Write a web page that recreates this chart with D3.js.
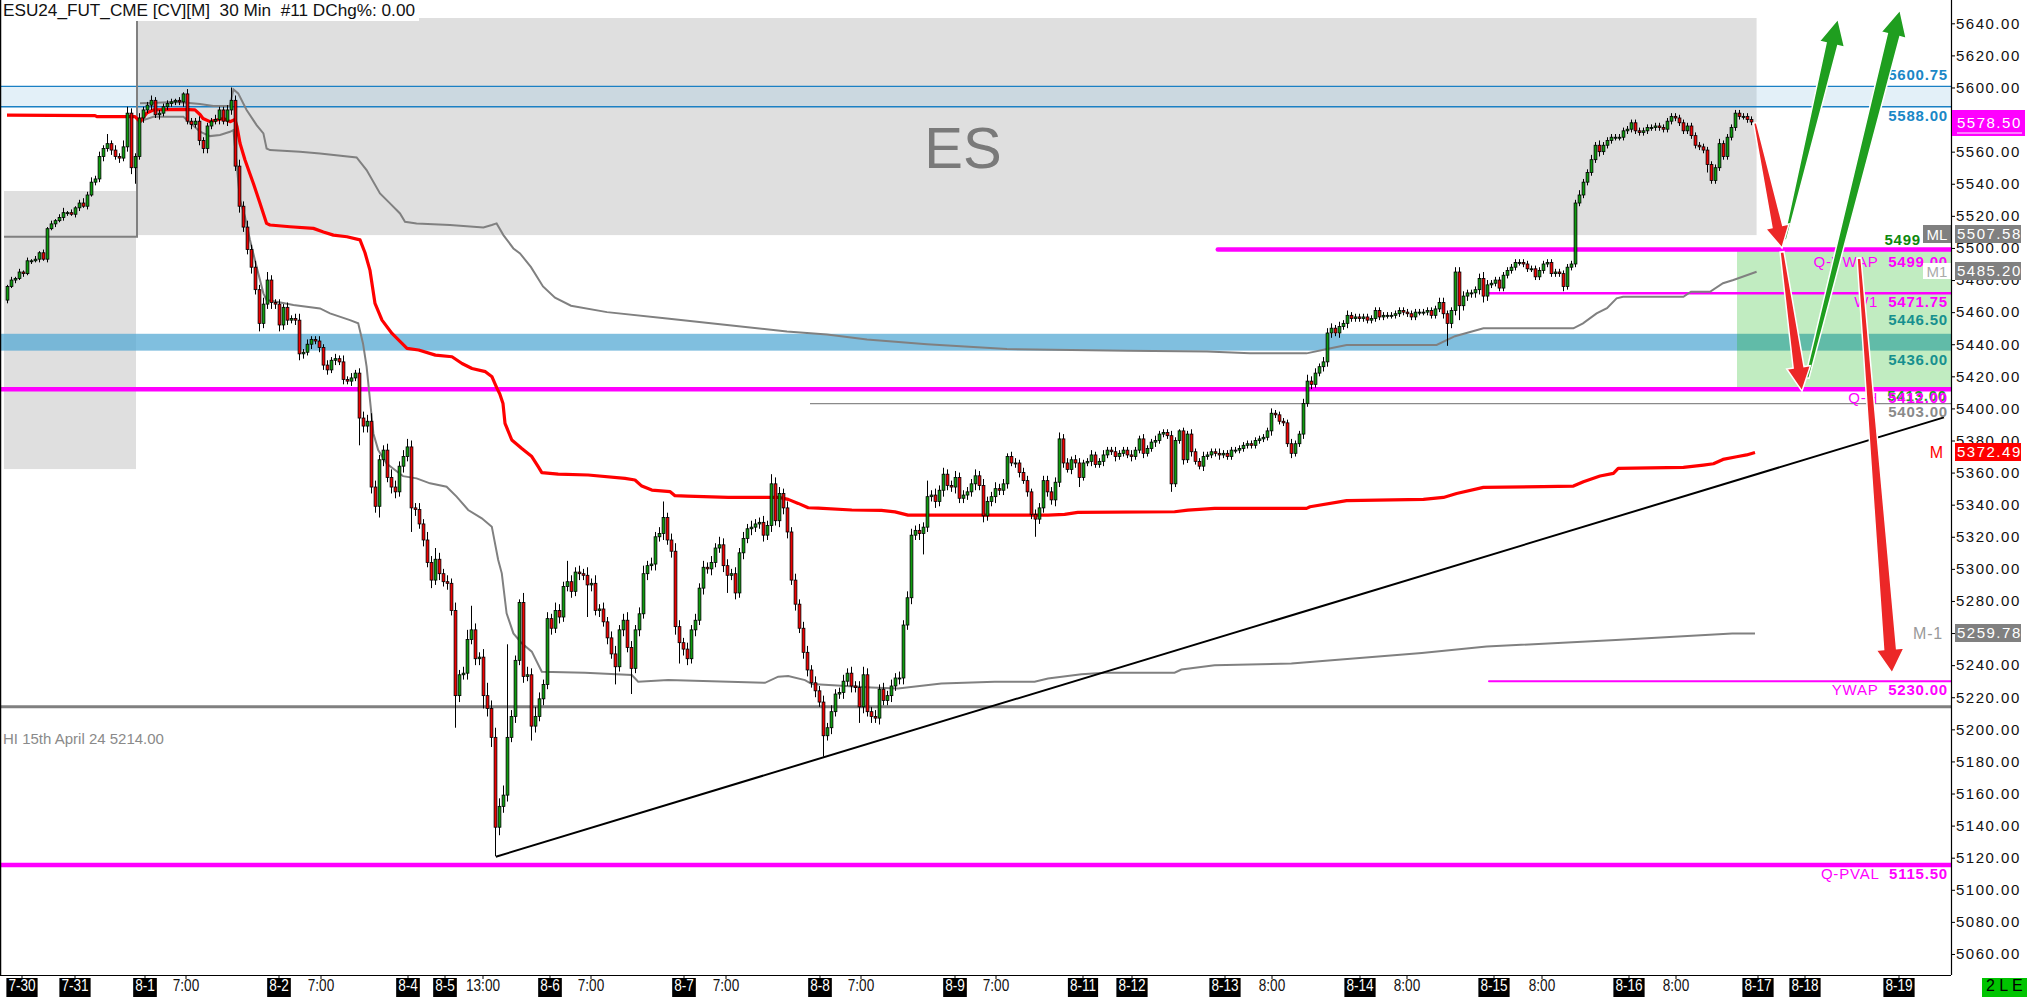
<!DOCTYPE html>
<html><head><meta charset="utf-8">
<script src="https://cdnjs.cloudflare.com/ajax/libs/d3/7.8.5/d3.min.js"></script>
<style>
html,body{margin:0;padding:0;background:#fff;overflow:hidden}
svg{display:block}
text{font-family:"Liberation Sans",Arial,sans-serif}
</style></head><body>
<svg id="chart" width="2027" height="997"></svg>
<script>
// ---------------- DATA ----------------
const title = "ESU24_FUT_CME [CV][M]  30 Min  #11 DChg%: 0.00";
const firstOpen = 5467.5;
const closes = [
5476,5480,5481,5485,5484,5492,5492,5493,5497,5493,
5512,5515,5517,5519,5522,5522,5521,5525,5528,5526,
5533,5541,5543,5557,5562,5565,5561,5557,5556,5563,
5584,5550,5557,5581,5586,5589,5592,5583,5584,5588,
5590,5591,5592,5591,5596,5579,5577,5579,5567,5562,
5576,5579,5580,5586,5579,5586,5592,5551,5526,5513,
5499,5488,5474,5453,5465,5480,5466,5465,5452,5463,
5455,5456,5455,5434,5435,5440,5443,5442,5438,5427,
5424,5430,5431,5429,5418,5417,5419,5422,5394,5389,
5392,5351,5339,5368,5374,5357,5351,5348,5364,5370,
5376,5338,5337,5328,5318,5304,5293,5306,5297,5292,
5291,5274,5221,5234,5235,5256,5262,5244,5245,5221,
5213,5195,5139,5152,5159,5195,5208,5243,5279,5233,
5234,5202,5208,5219,5228,5269,5263,5274,5270,5289,
5292,5286,5298,5297,5296,5290,5291,5274,5275,5267,
5257,5247,5239,5262,5268,5251,5238,5262,5272,5297,
5302,5303,5320,5322,5332,5318,5311,5264,5254,5250,
5244,5262,5268,5288,5301,5300,5304,5313,5315,5302,
5296,5297,5285,5310,5319,5325,5326,5328,5329,5321,
5327,5353,5330,5347,5338,5323,5293,5278,5263,5248,
5237,5229,5224,5217,5196,5201,5211,5222,5223,5230,
5235,5227,5226,5214,5234,5211,5208,5207,5225,5218,
5221,5227,5232,5232,5265,5282,5321,5324,5322,5326,
5345,5346,5342,5349,5359,5352,5351,5357,5344,5346,
5348,5353,5358,5352,5333,5342,5345,5350,5349,5353,
5370,5366,5366,5360,5355,5348,5334,5331,5338,5355,
5348,5343,5354,5381,5366,5362,5368,5366,5357,5366,
5367,5371,5365,5367,5371,5374,5373,5370,5372,5374,
5371,5370,5374,5381,5372,5375,5379,5380,5384,5385,
5383,5353,5380,5386,5368,5384,5373,5367,5364,5370,
5371,5373,5372,5371,5372,5370,5374,5374,5375,5377,
5378,5377,5380,5381,5382,5386,5397,5396,5392,5391,
5378,5372,5378,5384,5403,5417,5415,5422,5426,5429,
5447,5450,5447,5451,5453,5458,5456,5457,5456,5457,
5455,5456,5461,5457,5458,5458,5458,5459,5461,5460,
5459,5457,5460,5460,5460,5461,5458,5462,5466,5459,
5453,5461,5485,5464,5470,5472,5472,5474,5481,5470,
5477,5478,5480,5475,5483,5486,5488,5491,5491,5490,
5487,5487,5482,5486,5490,5491,5484,5485,5484,5476,
5488,5490,5528,5533,5541,5547,5555,5564,5560,5564,
5567,5569,5569,5569,5573,5574,5578,5573,5572,5573,
5575,5575,5576,5575,5574,5579,5582,5581,5578,5573,
5576,5570,5564,5563,5561,5552,5542,5550,5565,5557,
5569,5575,5584,5582,5582,5580,5578.5];
// wick lengths (points above body top / below body bottom)
const wickHi = [
1,2,1,2,1,2,1,2,1,2, 1,2,1,2,3,1,2,1,2,3, 2,3,2,3,2,6,2,3,2,4, 4,3,2,3,2,2,3,2,2,2,
2,2,1,2,1,3,2,2,3,2, 2,2,3,2,2,3,8,3,4,3, 4,3,4,3,4,5,3,2,3,2, 3,2,3,4,2,3,2,2,3,2,
3,2,3,2,4,2,3,2,3,4, 4,5,4,3,3,4,5,4,3,4, 5,4,3,4,3,5,4,7,4,3, 4,3,5,3,4,6,15,4,3,5,
8,5,6,5,6,58,4,3,2,6, 5,4,6,4,3,4,3,5,4,3, 13,4,3,4,3,5,3,5,3,4, 3,4,5,3,4,5,4,3,4,5,
3,4,3,4,10,3,4,5,4,3, 4,3,4,3,4,3,4,3,5,4, 4,3,4,3,4,3,4,3,3,4, 3,6,4,4,3,4,3,4,3,4,
4,3,4,3,4,3,4,3,3,4, 3,4,3,4,5,4,3,4,3,4, 3,4,3,4,3,4,4,3,4,3, 10,3,4,3,4,3,3,4,3,3,
3,3,4,3,4,3,3,4,3,3, 2,3,3,2,3,3,2,3,3,3, 3,3,3,4,3,3,2,3,3,2, 2,3,2,2,3,2,2,3,2,2,
2,3,2,2,3,2,2,3,2,2, 2,3,2,1,2,2,3,2,2,3, 2,2,2,3,2,2,2,2,2,2, 2,2,2,2,2,2,3,2,2,2,
2,3,2,2,3,4,3,3,2,3, 3,3,2,3,2,3,2,2,2,2, 2,2,2,2,2,2,2,2,2,2, 2,2,2,2,2,2,2,2,3,3,
2,2,3,3,3,2,2,2,3,4, 3,2,2,2,2,2,2,2,2,2, 2,2,2,2,2,2,2,2,2,2, 2,2,2,3,2,2,3,2,3,2,
2,2,2,2,2,2,2,2,2,2, 2,2,2,2,2,2,2,2,2,2, 2,2,2,2,2,2,2,2,3,2, 2,2,2,2,2,2,2];
const wickLo = [
2,1,2,1,2,1,2,1,2,1, 2,1,2,1,2,2,1,2,2,1, 2,1,2,2,3,2,3,2,3,2, 3,4,10,2,3,2,3,2,3,2,
2,2,2,2,3,2,3,2,3,3, 3,2,2,3,2,3,3,3,4,3, 3,4,3,5,3,3,4,3,4,3, 3,2,3,4,3,2,3,2,3,3,
3,2,3,2,3,2,3,2,17,4, 4,4,4,7,4,3,4,4,3,4, 3,15,4,3,4,3,5,3,4,3, 4,3,20,4,3,4,3,4,4,8,
5,6,18,5,4,4,3,4,3,4, 3,9,4,3,4,3,4,3,4,3, 3,4,3,4,3,20,4,3,4,3, 4,3,11,3,4,3,16,3,4,3,
4,3,4,3,4,3,4,5,13,4, 4,3,4,3,4,3,4,3,3,4, 11,3,4,3,4,3,4,3,3,4, 3,4,3,4,4,4,3,4,3,4,
4,3,4,3,13,3,4,3,3,4, 3,4,3,10,4,3,4,3,4,3, 3,4,3,4,4,3,4,3,4,13, 3,3,4,3,4,3,3,4,3,3,
3,3,4,3,4,3,3,4,3,3, 3,2,3,3,2,3,3,11,3,3, 3,3,4,3,3,2,3,3,6,2, 2,3,2,2,3,2,2,3,2,2,
2,3,2,2,3,2,2,3,2,2, 2,5,2,2,3,2,3,2,2,3, 2,2,2,3,2,2,2,2,2,2, 2,2,2,2,2,2,3,2,2,2,
2,3,2,2,3,2,3,2,2,3, 3,3,2,3,2,3,2,2,2,2, 2,2,2,2,2,2,2,2,2,2, 2,2,2,2,2,2,2,2,2,3,
14,3,3,9,3,3,3,3,3,4, 3,2,2,2,2,2,2,2,2,2, 2,2,2,2,2,2,2,2,2,3, 2,2,2,2,2,2,2,2,3,2,
2,2,2,2,2,2,2,2,2,2, 2,2,2,2,2,2,2,2,2,2, 2,2,2,2,2,5,2,2,2,2, 2,2,2,2,2,2,2];

// monthly VWAP (red "M") and bands: [bar, price]
const mVwap = [[0,5582.8],[22,5582.5],[22.5,5581.8],[32,5581.8],[33.25,5578.7],[34.9,5584],[36.6,5586],[44,5586.3],[47,5586],
[48.3,5583],[49,5580.7],[50.75,5578.7],[52.4,5579.7],[54.1,5580.7],[55.75,5578.7],[57,5580],[57.5,5575.6],[58.25,5565.2],
[59.5,5554.8],[61.6,5540.2],[63.25,5527.8],[64.9,5515.3],[65.75,5514.3],[70.75,5513.2],[76.6,5512.2],[79.1,5510],[81.6,5508],
[85,5507],[88.25,5505],[89.5,5497],[90.75,5486],[92,5465.4],[93.75,5455],[96.25,5446.7],[98.75,5440.5],[100,5437.4],
[102.9,5436.4],[107.1,5433.2],[111.25,5432.2],[113.75,5428],[116.25,5424.9],[119.6,5422.9],[121.25,5419.7],[122.5,5412.5],
[123.2,5409],[124,5403],[124.5,5390.7],[126.2,5380.3],[128.7,5375],[131.2,5370],[132.8,5363.7],[133.7,5360],[137.8,5359.1],
[145.3,5358.5],[154.5,5356.4],[157,5355.4],[158.7,5351.6],[161.2,5349.1],[165.8,5348.1],[167,5345.6],[170,5345.3],
[180.3,5344.6],[192.8,5344.6],[195.3,5343.3],[197.8,5340.8],[200.3,5338.1],[202.8,5337.9],[211.2,5336.7],[218.6,5336.4],
[222,5335.5],[225.25,5333.5],[260.25,5333.5],[264.4,5334],[267.7,5335.2],[291.9,5335.6],[295.25,5336.6],[301.9,5337.7],
[324.9,5337.7],[325.75,5338.7],[334.9,5342.5],[354.1,5343.3],[359.1,5344.5],[362.4,5347],[369.1,5350.8],[384,5351.2],
[391.6,5351.6],[394.1,5354.3],[398.25,5357.9],[401.6,5359.5],[402.8,5362.6],[419.1,5363.3],[424.1,5364.7],[426.6,5365.5],
[429,5368.2],[432.4,5369.9],[434.9,5371],[437,5372.49]];
const bandUpper = [[33.25,5590.1],[37.4,5590.5],[41.6,5590.9],[44.9,5590.5],[48.25,5589.7],[51.6,5588.4],[55.75,5588.4],
[56.6,5598.8],[57.8,5596.3],[59.9,5586],[62.4,5576.6],[64.1,5571.4],[64.9,5562],[65.75,5561],[73.25,5560],[78.25,5558.9],
[87.4,5556.4],[89.9,5548.5],[93.25,5534],[95.75,5527.8],[98.25,5521.5],[99.5,5516.3],[102.4,5515.3],[110.75,5514.3],
[119.1,5512.8],[121.2,5514.3],[122.4,5515.3],[124.1,5508],[126.6,5499.7],[128.25,5496.6],[131,5488],[134,5476],[137,5469],
[141,5464],[150,5460],[165,5456],[180,5452],[195,5448],[205,5446],[215,5443],[230,5440],[250,5437],[280,5436],[300,5435.5],
[310.75,5434.3],[324.9,5434.3],[330,5437],[334.9,5439.5],[357.4,5439.5],[362,5445],[369.1,5449.9],[391.6,5449.9],[394,5453],
[397.4,5459.2],[400,5462.5],[402.4,5468.6],[404,5469.6],[419.1,5469.6],[421,5472.7],[425.75,5472.7],[429,5478],[431.6,5480],
[437.4,5485.2]];
const bandLower = [[32.8,5577.6],[34.1,5579.7],[36.6,5581.8],[44.1,5581.8],[48.25,5572.4],[50.75,5569.7],[53.25,5570.4],
[55.75,5572.4],[56.6,5573.5],[58.25,5529.9],[59.5,5519.5],[60.75,5505],[62.4,5488.3],[64.1,5471.7],[64.9,5467.5],
[67.4,5466.5],[71.6,5464.4],[78.25,5462.3],[80.75,5459.2],[85.75,5455],[87.8,5453],[89,5440.5],[89.9,5426],[90.75,5405.2],
[91.6,5384.4],[92.8,5374],[94.9,5365.7],[97,5361.6],[99,5357.8],[102.4,5356.4],[105.75,5353.3],[109.9,5351.2],[112.4,5345],
[115.3,5336.7],[118.7,5331.5],[121.2,5326.3],[122.8,5305.5],[123.7,5297.2],[124.9,5272.3],[126.6,5259.8],[128.7,5253.6],
[131.2,5248.4],[133.7,5235.9],[144.5,5235.3],[156.2,5233.8],[157.8,5229.7],[165.3,5230.7],[189.5,5229],[192.8,5232.8],
[195.3,5233.2],[199.5,5230.7],[201.2,5228.2],[216.1,5226.1],[222.75,5225.5],[233.6,5228.6],[246.9,5229.6],[256.9,5229.6],
[260.25,5231.7],[268.6,5234.4],[274.4,5235.3],[291.9,5235.3],[293.6,5237.3],[301.9,5240],[321.1,5241],[353.7,5247.6],
[369.9,5251.6],[402.2,5255.7],[431.3,5259.7],[437,5259.78]];
const prevBand = [[-0.75,5507],[32.5,5507],[32.5,5643]];

const priceTicks = [5060,5080,5100,5120,5140,5160,5180,5200,5220,5240,5260,5280,5300,5320,5340,5360,5380,5400,
5420,5440,5460,5480,5500,5520,5540,5560,5580,5600,5620,5640];
const dayTicks = [["7-30",3.75],["7-31",17],["8-1",34.5],["8-2",68],["8-4",100.25],["8-5",109.5],["8-6",135.75],
["8-7",169.25],["8-8",203.25],["8-9",237],["8-11",269],["8-12",281.25],["8-13",304.5],["8-14",338.25],["8-15",371.75],
["8-16",405.5],["8-17",437.75],["8-18",449.5],["8-19",473]];
const hourTicks = [["7:00",44.75],["7:00",78.5],["13:00",119],["7:00",146],["7:00",179.75],["7:00",213.5],["7:00",247.25],
["8:00",316.25],["8:00",350],["8:00",383.75],["8:00",417.25]];

// zones: [bar0, bar1, priceLow, priceHigh]
const leftBox = [-0.75, 32.25, 5362.2, 5535.5];
const esBox = [32.5, 437.4, 5508, 5643.3];
const blueZone = [5588.00, 5600.75];
const tealZone = [5436.00, 5446.50];
const greenBox = [432.5, 486, 5412, 5499];
// horizontal levels: [name, price, startBar]
const magentaLevels = [["Q-VWAP",5499.00,302.7],["W1",5471.75,370.5],["Q-H",5412.00,-2],["YWAP",5230.00,370.5],["Q-PVAL",5115.50,-2]];
const hiApril = ["HI 15th April 24", 5214.00];
const grayLevel = [5403.00, 200.75];
const trend = [[122.2,5120.6],[484.25,5394.4]];
// arrows: [bar0, price0, bar1, price1]
const redArrows = [[437,5577.9,443.75,5500.0],[443.75,5497.5,448.75,5410.8],[463,5493.7,471.25,5235.1]];
const greenArrows = [[444.5,5505,457.75,5642.7],[450,5419,473.25,5648.3]];
const lastPrice = 5578.50, mlValue = 5507.58, m1Value = 5485.20, mValue = 5372.49, mNeg1Value = 5259.78;

// ---------------- DRAW ----------------
const PR = 1951, PB = 975;
const svg = d3.select("#chart");
const x = d3.scaleLinear().domain([-1.75, 486]).range([0, PR]);
const y = d3.scaleLinear().domain([5046.9, 5654.52]).range([PB, 0]);
svg.append("rect").attr("width",2027).attr("height",997).attr("fill","#fff");
svg.append("defs").append("clipPath").attr("id","plot").append("rect").attr("x",0).attr("y",0).attr("width",PR).attr("height",PB);
const g = svg.append("g").attr("clip-path","url(#plot)");

function zoneRect(b, fill){
  g.append("rect").attr("x",x(b[0])).attr("width",x(b[1])-x(b[0]))
   .attr("y",y(b[3])).attr("height",y(b[2])-y(b[3])).attr("fill",fill);
}
zoneRect(leftBox,"#dfdfdf");
zoneRect(esBox,"#dfdfdf");
g.append("text").attr("x",963).attr("y",y(5550)).attr("text-anchor","middle").attr("font-size",58)
 .attr("fill","#7a7a7a").text("ES");

// blue zone
g.append("rect").attr("x",0).attr("width",PR).attr("y",y(blueZone[1])).attr("height",y(blueZone[0])-y(blueZone[1]))
 .attr("fill","rgba(143,195,227,0.25)");
blueZone.forEach(v=>g.append("line").attr("x1",0).attr("x2",PR).attr("y1",y(v)).attr("y2",y(v)).attr("stroke","#1a80c4").attr("stroke-width",1.3));
// teal zone
g.append("rect").attr("x",0).attr("width",PR).attr("y",y(tealZone[1])).attr("height",y(tealZone[0])-y(tealZone[1]))
 .attr("fill","rgba(86,170,212,0.75)");
zoneRect(greenBox,"rgba(0,177,0,0.244)");

// horizontal gray lines
g.append("line").attr("x1",0).attr("x2",PR).attr("y1",y(hiApril[1])).attr("y2",y(hiApril[1])).attr("stroke","#808080").attr("stroke-width",3);
g.append("line").attr("x1",x(grayLevel[1])).attr("x2",PR).attr("y1",y(grayLevel[0])).attr("y2",y(grayLevel[0])).attr("stroke","#8a8a8a").attr("stroke-width",1.3);
// magenta lines
const magW = {"Q-VWAP":4.5,"W1":2.6,"Q-H":4.5,"YWAP":2,"Q-PVAL":4.5};
magentaLevels.forEach(l=>{
  g.append("line").attr("x1",x(l[2])).attr("x2",PR+5).attr("y1",y(l[1])).attr("y2",y(l[1]))
   .attr("stroke","#ff00ff").attr("stroke-width",magW[l[0]]).attr("stroke-linecap","round");
});

const lineGen = d3.line().x(d=>x(d[0])).y(d=>y(d[1]));
g.append("path").attr("d",lineGen(prevBand)).attr("fill","none").attr("stroke","#808080").attr("stroke-width",2);
g.append("path").attr("d",lineGen(bandUpper)).attr("fill","none").attr("stroke","#808080").attr("stroke-width",2);
g.append("path").attr("d",lineGen(bandLower)).attr("fill","none").attr("stroke","#808080").attr("stroke-width",2);
g.append("path").attr("d",lineGen(mVwap)).attr("fill","none").attr("stroke","#ff0000").attr("stroke-width",3.2).attr("stroke-linejoin","round");
g.append("path").attr("d",lineGen(trend)).attr("fill","none").attr("stroke","#000").attr("stroke-width",2);

// candles
const bars = closes.map((c,i)=>{
  const o = i===0 ? firstOpen : closes[i-1];
  return {i, o, c, h: Math.max(o,c)+wickHi[i], l: Math.min(o,c)-wickLo[i]};
});
const cg = g.append("g");
cg.selectAll("line.w").data(bars).join("line").attr("class","w")
  .attr("x1",d=>Math.round(x(d.i))+0.5).attr("x2",d=>Math.round(x(d.i))+0.5)
  .attr("y1",d=>y(d.h)).attr("y2",d=>y(d.l)).attr("stroke","#000").attr("stroke-width",1);
cg.selectAll("rect.b").data(bars).join("rect").attr("class","b")
  .attr("x",d=>Math.round(x(d.i))+0.5-1.4).attr("width",2.8)
  .attr("y",d=>y(Math.max(d.o,d.c))).attr("height",d=>Math.max(1,Math.abs(y(d.o)-y(d.c))))
  .attr("fill",d=>d.c>=d.o?"#0d9c0d":"#f00000").attr("stroke","#000").attr("stroke-width",0.8);

// ---------- labels inside plot ----------
const L = svg.append("g");
function rlabel(xr, yb, parts, size){
  const t = L.append("text").attr("x",xr).attr("y",yb).attr("text-anchor","end").attr("font-size",size||15)
    .attr("letter-spacing","0.8px").style("white-space","pre");
  parts.forEach(p=>t.append("tspan").attr("fill",p[1]).attr("font-weight",p[2]||"normal").text(p[0]));
  return t;
}
rlabel(1948, 80, [["5600.75","#1a87c6","bold"]]);
rlabel(1948, 121, [["5588.00","#1a87c6","bold"]]);
rlabel(1921, 245, [["5499","#0f8a0f","bold"]]);
rlabel(1948, 267, [["Q-VWAP  ","#ff00ff"],["5499.00","#ff00ff","bold"]]);
rlabel(1948, 307, [["W1  ","#ff00ff"],["5471.75","#ff00ff","bold"]]);
rlabel(1948, 325, [["5446.50","#16908f","bold"]]);
rlabel(1948, 365, [["5436.00","#16908f","bold"]]);
rlabel(1947, 401, [["5413.00","#22a022","bold"]]);
rlabel(1948, 403, [["Q-H  ","#ff00ff"],["5412.00","#ff00ff","bold"]]);
rlabel(1948, 417, [["5403.00","#8a8a8a","bold"]]);
rlabel(1948, 695, [["YWAP  ","#ff00ff"],["5230.00","#ff00ff","bold"]]);
rlabel(1948, 879, [["Q-PVAL  ","#ff00ff"],["5115.50","#ff00ff","bold"]]);
rlabel(1944, 458, [["M","#ff0000"]], 16);
rlabel(1943, 639, [["M-1","#999"]], 16);
L.append("text").attr("x",3).attr("y",744).attr("font-size",15).attr("fill","#8a8a8a")
  .text(hiApril[0]+" "+hiApril[1].toFixed(2));
// ML / M1 tags
L.append("rect").attr("x",1923).attr("y",225).attr("width",28).attr("height",18).attr("fill","#808080");
L.append("text").attr("x",1937).attr("y",240).attr("text-anchor","middle").attr("font-size",15).attr("fill","#fff").text("ML");
L.append("rect").attr("x",1923).attr("y",263).attr("width",28).attr("height",16).attr("fill","#fff");
L.append("text").attr("x",1937).attr("y",277).attr("text-anchor","middle").attr("font-size",15).attr("fill","#aaa").text("M1");

// title
svg.append("rect").attr("x",0).attr("y",0).attr("width",419).attr("height",21).attr("fill","#fff");
svg.append("text").attr("x",3).attr("y",16).attr("font-size",16).attr("fill","#111").style("white-space","pre")
  .attr("textLength",412).attr("lengthAdjust","spacingAndGlyphs").text(title);

// ---------- arrows ----------
function arrow(a, color, w0, w1, hl, hw){
  const sx=x(a[0]), sy=y(a[1]), tx=x(a[2]), ty=y(a[3]);
  const dx=tx-sx, dy=ty-sy, len=Math.hypot(dx,dy), ux=dx/len, uy=dy/len, nx=-uy, ny=ux;
  const bx=tx-ux*hl, by=ty-uy*hl;
  const pts=[[sx+nx*w0,sy+ny*w0],[bx+nx*w1,by+ny*w1],[bx+nx*hw,by+ny*hw],[tx,ty],[bx-nx*hw,by-ny*hw],[bx-nx*w1,by-ny*w1],[sx-nx*w0,sy-ny*w0]];
  svg.append("path").attr("d","M"+pts.map(p=>p.join(",")).join("L")+"Z").attr("fill",color)
    .attr("stroke","#fff").attr("stroke-width",1.5).attr("stroke-linejoin","miter");
}
arrow(greenArrows[0],"#1f9e1f",1.5,6,26,13);
arrow(greenArrows[1],"#1f9e1f",2,6.5,26,13);
arrow(redArrows[2],"#ec2727",2,6.5,24,14);
arrow(redArrows[0],"#ec2727",1.5,5.5,22,12);
arrow(redArrows[1],"#ec2727",2,5.5,24,12);

// ---------- axes ----------
svg.append("line").attr("x1",PR+0.5).attr("x2",PR+0.5).attr("y1",0).attr("y2",PB).attr("stroke","#000").attr("stroke-width",1.2);
svg.append("line").attr("x1",0).attr("x2",PR).attr("y1",PB+0.5).attr("y2",PB+0.5).attr("stroke","#000").attr("stroke-width",1.2);
svg.append("line").attr("x1",0.5).attr("x2",0.5).attr("y1",0).attr("y2",PB).attr("stroke","#000").attr("stroke-width",1.5);

const yAxis = d3.axisRight(y).tickValues(priceTicks).tickFormat(d3.format(".2f")).tickSize(4).tickPadding(1);
const ya = svg.append("g").attr("transform",`translate(${PR},0)`).call(yAxis);
ya.select(".domain").remove();
ya.selectAll("text").attr("font-size",15).attr("font-family","Liberation Sans, Arial, sans-serif").attr("fill","#111").attr("letter-spacing","1.5px");
ya.selectAll("line").attr("stroke","#000");

function valueBox(v, y0, h, fill, txtColor){
  svg.append("rect").attr("x",1955).attr("y",y0).attr("width",66).attr("height",h).attr("fill",fill);
  svg.append("text").attr("x",1957).attr("y",y0+h/2).attr("dy","0.36em").attr("font-size",15).attr("fill",txtColor)
    .attr("letter-spacing","1.5px").text(v.toFixed(2));
}
valueBox(mlValue, 225, 18, "#808080", "#fff");
valueBox(m1Value, 262, 18, "#808080", "#fff");
valueBox(mValue, 443, 18, "#ff0000", "#fff");
valueBox(mNeg1Value, 624, 18, "#808080", "#fff");
svg.append("rect").attr("x",1952).attr("y",110).attr("width",73).attr("height",26).attr("fill","#ff00ff");
svg.append("text").attr("x",1957).attr("y",123).attr("dy","0.36em").attr("font-size",15).attr("fill","#fff")
  .attr("letter-spacing","1.5px").text(lastPrice.toFixed(2));
svg.append("line").attr("x1",1957).attr("x2",2022).attr("y1",133).attr("y2",133).attr("stroke","#fff").attr("stroke-width",1);

// bottom axis
const xa = svg.append("g");
function tick(lbl, bar, boxed){
  const px = x(bar);
  xa.append("line").attr("x1",px).attr("x2",px).attr("y1",PB).attr("y2",PB+4).attr("stroke","#000");
  const t = xa.append("text").attr("x",px).attr("y",991).attr("text-anchor","middle").attr("font-size",17)
    .attr("fill",boxed?"#fff":"#111").text(lbl);
  const w = t.node().getComputedTextLength()*0.8;
  t.attr("textLength",w).attr("lengthAdjust","spacingAndGlyphs");
  if(boxed){
    xa.insert("rect","text").attr("x",px-w/2-2).attr("y",978).attr("width",w+4).attr("height",19).attr("fill","#000");
  }
}
hourTicks.forEach(d=>tick(d[0],d[1],false));
dayTicks.forEach(d=>tick(d[0],d[1],true));
// bottom-right tag
svg.append("rect").attr("x",1982).attr("y",978).attr("width",45).attr("height",19).attr("fill","#00c400");
svg.append("text").attr("x",1986).attr("y",991).attr("font-size",16).attr("fill","#000").style("white-space","pre").text("2 L E");
</script>
</body></html>
